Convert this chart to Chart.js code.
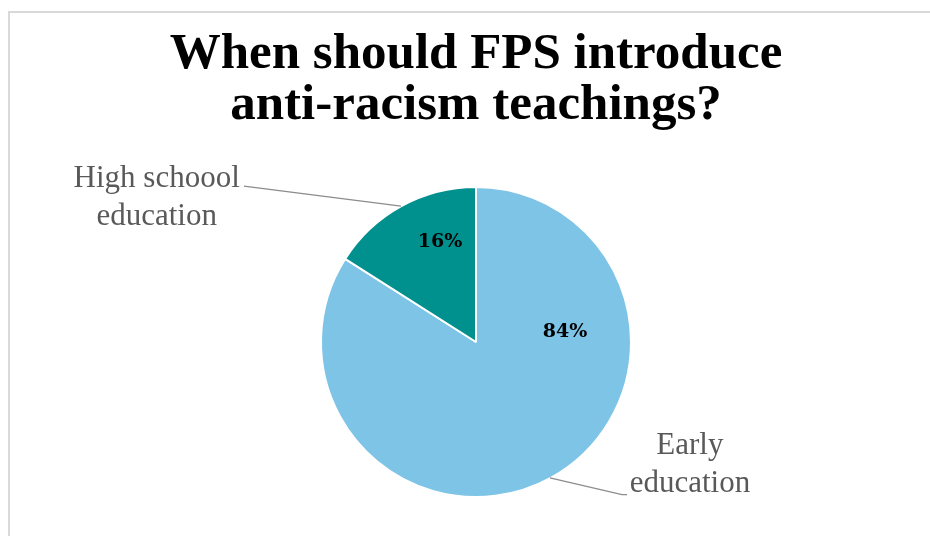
<!DOCTYPE html>
<html lang="en">
<head>
  <meta charset="UTF-8" />
  <title>When should FPS introduce anti-racism teachings?</title>
  <script src="https://cdn.jsdelivr.net/npm/chart.js"></script>
  <style>
    html, body { margin: 0; padding: 0; background: #fff; }
    .frame {
      position: absolute; left: 8px; top: 11px; width: 940px; height: 540px;
      border-top: 2px solid #d9d9d9; border-left: 2px solid #d9d9d9;
    }
    .wrap { position: absolute; left: 0; top: 0; width: 930px; height: 536px; }
  </style>
</head>
<body>
  <div class="frame"></div>
  <div class="wrap"><canvas id="pieChart"></canvas></div>

  <script>
    const categories = ["Early education", "High schoool education"];
    const shares = [84, 16];
    const sliceColors = ["#7dc4e6", "#00918f"];
    // outer label lines per slice
    const outerLabels = [["Early", "education"], ["High schoool", "education"]];

    // label placement, in fractions of the pie radius from its centre
    const labelLayout = [
      { pct: [0.574, -0.03], text: [1.38, 0.72], lineGap: 0.25,
        leader: [[0.477, 0.877], [0.942, 0.985], [0.975, 0.985]] },
      { pct: [-0.232, -0.61], text: [-2.06, -1.00], lineGap: 0.245,
        leader: [[-1.497, -1.006], [-0.484, -0.877]] }
    ];

    const pieLabels = {
      id: "pieLabels",
      afterDatasetsDraw(chart) {
        const ctx = chart.ctx;
        const meta = chart.getDatasetMeta(0);
        meta.data.forEach((arc, i) => {
          const cx = arc.x, cy = arc.y, r = arc.outerRadius;
          const lay = labelLayout[i];
          ctx.save();
          // leader line
          ctx.strokeStyle = "#8c8c8c";
          ctx.lineWidth = 1.2;
          ctx.beginPath();
          lay.leader.forEach((p, k) => {
            const px = cx + p[0] * r, py = cy + p[1] * r;
            if (k === 0) ctx.moveTo(px, py); else ctx.lineTo(px, py);
          });
          ctx.stroke();
          // percentage
          ctx.fillStyle = "#000";
          ctx.font = "bold 19px 'DejaVu Serif'";
          ctx.textAlign = "center";
          ctx.textBaseline = "alphabetic";
          ctx.fillText(shares[i] + "%", cx + lay.pct[0] * r, cy + lay.pct[1] * r);
          // category name
          ctx.fillStyle = "#595959";
          ctx.font = "31px 'Liberation Serif'";
          outerLabels[i].forEach((line, k) => {
            ctx.fillText(line, cx + lay.text[0] * r, cy + (lay.text[1] + k * lay.lineGap) * r);
          });
          ctx.restore();
        });
      }
    };

    new Chart(document.getElementById("pieChart"), {
      type: "pie",
      data: {
        labels: categories,
        datasets: [{
          data: shares,
          backgroundColor: sliceColors,
          borderColor: "#fff",
          borderWidth: 2
        }]
      },
      options: {
        responsive: true,
        maintainAspectRatio: false,
        animation: false,
        layout: { padding: { left: 22, right: 0, top: 0, bottom: 38 } },
        plugins: {
          legend: { display: false },
          tooltip: { enabled: false },
          title: {
            display: true,
            text: ["When should FPS introduce", "anti-racism teachings?"],
            color: "#000",
            font: { family: "'Liberation Serif'", size: 51, weight: "bold", lineHeight: 1.0 },
            padding: { top: 29, bottom: 55 }
          }
        }
      },
      plugins: [pieLabels]
    });
  </script>
</body>
</html>
